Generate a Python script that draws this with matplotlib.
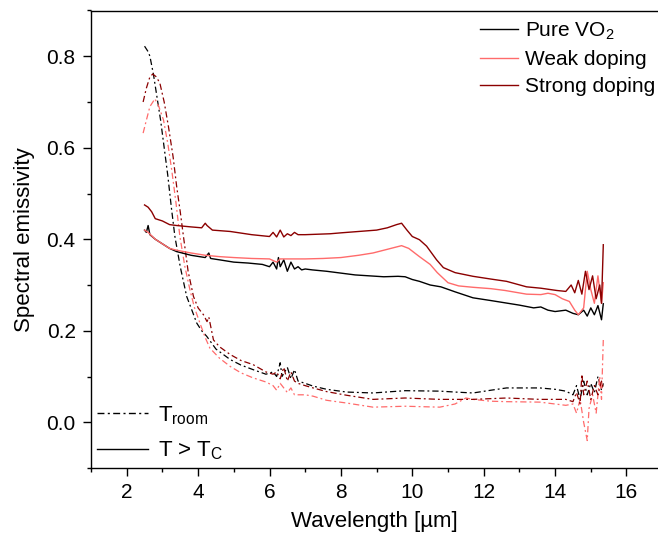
import matplotlib
matplotlib.use("Agg")
import matplotlib.pyplot as plt
from matplotlib.lines import Line2D
from matplotlib.ticker import MultipleLocator

plt.rcParams['font.family'] = ['Liberation Sans', 'DejaVu Sans']
plt.rcParams['mathtext.fontset'] = 'custom'
plt.rcParams['mathtext.rm'] = 'Liberation Sans'

# colours for the three samples
c_pure = 'black'
c_weak = '#FF6B6B'
c_strong = '#8B0000'

# ---- T > Tc (solid lines) ----
wl_pure_hot = [2.5, 2.55, 2.6, 2.65, 2.8, 3.0, 3.2, 3.4, 3.8, 4.2, 4.3, 4.35, 4.6, 5.0, 5.4, 5.8,
               6.0, 6.1, 6.2, 6.25, 6.3, 6.4, 6.5, 6.6, 6.7, 6.8, 6.9, 7.0, 7.2, 7.6, 8.0, 8.4,
               8.8, 9.2, 9.6, 9.8, 10.0, 10.2, 10.5, 10.8, 11.2, 11.7, 12.2, 12.6, 13.0, 13.4,
               13.6, 13.8, 14.0, 14.3, 14.5, 14.65, 14.8, 14.9, 15.0, 15.1, 15.2, 15.3, 15.35]
em_pure_hot = [0.42, 0.415, 0.43, 0.41, 0.40, 0.39, 0.38, 0.373, 0.365, 0.36, 0.37, 0.358, 0.355,
               0.35, 0.348, 0.345, 0.34, 0.35, 0.335, 0.36, 0.34, 0.355, 0.33, 0.35, 0.335, 0.34,
               0.333, 0.335, 0.333, 0.33, 0.326, 0.322, 0.32, 0.318, 0.319, 0.318, 0.312, 0.308,
               0.30, 0.296, 0.285, 0.272, 0.266, 0.261, 0.256, 0.25, 0.252, 0.245, 0.242, 0.245,
               0.238, 0.235, 0.245, 0.232, 0.25, 0.235, 0.255, 0.224, 0.259]

wl_weak_hot = [2.5, 2.6, 2.8, 3.0, 3.2, 3.4, 3.8, 4.2, 4.6, 5.0, 5.5, 6.0, 6.2, 6.3, 6.5, 7.0,
               7.5, 8.0, 8.5, 8.9, 9.3, 9.7, 9.9, 10.2, 10.5, 10.7, 11.0, 11.3, 11.7, 12.2, 12.6,
               13.2, 13.6, 13.8, 14.0, 14.2, 14.4, 14.55, 14.65, 14.8, 14.9, 15.0, 15.1, 15.2,
               15.3, 15.35]
em_weak_hot = [0.42, 0.415, 0.40, 0.39, 0.38, 0.376, 0.37, 0.365, 0.362, 0.36, 0.358, 0.357,
               0.35, 0.357, 0.357, 0.357, 0.358, 0.36, 0.365, 0.37, 0.378, 0.386, 0.38, 0.362,
               0.345, 0.327, 0.305, 0.298, 0.295, 0.292, 0.288, 0.28, 0.279, 0.282, 0.279, 0.27,
               0.264, 0.245, 0.235, 0.25, 0.33, 0.29, 0.26, 0.32, 0.26, 0.305]

wl_strong_hot = [2.5, 2.6, 2.7, 2.8, 3.0, 3.2, 3.4, 3.8, 4.1, 4.2, 4.25, 4.4, 4.9, 5.5, 6.0, 6.1,
                 6.2, 6.3, 6.4, 6.5, 6.6, 6.7, 6.8, 7.0, 7.7, 8.0, 8.5, 9.0, 9.3, 9.56, 9.7, 9.85,
                 10.0, 10.2, 10.4, 10.68, 10.87, 11.2, 11.7, 12.2, 12.64, 13.2, 13.6, 14.05, 14.3,
                 14.45, 14.55, 14.65, 14.75, 14.85, 14.95, 15.05, 15.15, 15.25, 15.3, 15.35]
em_strong_hot = [0.475, 0.47, 0.46, 0.445, 0.44, 0.432, 0.43, 0.427, 0.425, 0.435, 0.43, 0.42,
                 0.417, 0.41, 0.406, 0.415, 0.405, 0.42, 0.405, 0.412, 0.408, 0.415, 0.41, 0.41,
                 0.412, 0.414, 0.417, 0.42, 0.425, 0.432, 0.435, 0.42, 0.406, 0.399, 0.385, 0.355,
                 0.338, 0.327, 0.319, 0.313, 0.308, 0.296, 0.293, 0.288, 0.286, 0.3, 0.283, 0.31,
                 0.28, 0.33, 0.29, 0.32, 0.27, 0.30, 0.26, 0.388]

# ---- T room (dash-dot lines) ----
wl_pure_room = [2.5, 2.6, 2.65, 2.75, 2.85, 2.95, 3.05, 3.15, 3.25, 3.35, 3.5, 3.68, 3.85, 3.96,
                4.1, 4.24, 4.5, 4.9, 5.2, 5.54, 5.9, 6.1, 6.2, 6.3, 6.35, 6.5, 6.6, 6.7, 6.8, 7.0,
                7.22, 7.6, 8.16, 8.9, 9.8, 10.77, 11.2, 11.7, 12.2, 12.64, 13.57, 14.0, 14.3, 14.5,
                14.6, 14.7, 14.8, 14.9, 15.0, 15.1, 15.2, 15.3, 15.35]
em_pure_room = [0.822, 0.81, 0.80, 0.76, 0.71, 0.66, 0.60, 0.54, 0.47, 0.406, 0.34, 0.275, 0.24,
                0.217, 0.20, 0.188, 0.16, 0.137, 0.125, 0.115, 0.105, 0.11, 0.10, 0.13, 0.10,
                0.12, 0.095, 0.115, 0.09, 0.085, 0.079, 0.072, 0.066, 0.064, 0.069, 0.068, 0.066,
                0.064, 0.07, 0.075, 0.075, 0.072, 0.068, 0.06, 0.08, 0.05, 0.09, 0.06, 0.085,
                0.065, 0.1, 0.07, 0.085]

wl_weak_room = [2.46, 2.55, 2.65, 2.79, 2.9, 3.03, 3.15, 3.26, 3.38, 3.49, 3.63, 3.77, 3.9, 4.05,
                4.2, 4.33, 4.6, 4.9, 5.2, 5.54, 5.9, 6.1, 6.2, 6.3, 6.5, 6.6, 6.7, 7.0, 7.22, 7.6,
                8.16, 8.9, 9.8, 10.77, 11.2, 11.5, 11.7, 12.2, 12.64, 13.57, 14.3, 14.5, 14.6, 14.7,
                14.8, 14.9, 14.95, 15.05, 15.15, 15.25, 15.3, 15.35]
em_weak_room = [0.632, 0.66, 0.69, 0.707, 0.69, 0.661, 0.61, 0.552, 0.48, 0.406, 0.34, 0.29, 0.25,
                0.217, 0.185, 0.162, 0.14, 0.122, 0.108, 0.097, 0.088, 0.08, 0.07, 0.085, 0.065,
                0.075, 0.06, 0.06, 0.057, 0.048, 0.042, 0.033, 0.035, 0.033, 0.04, 0.053, 0.05,
                0.046, 0.045, 0.044, 0.037, 0.04, 0.02, 0.05, 0.0, -0.04, 0.03, 0.06, 0.02, 0.10,
                0.05, 0.18]

wl_strong_room = [2.46, 2.55, 2.65, 2.73, 2.83, 2.93, 3.05, 3.17, 3.3, 3.4, 3.5, 3.59, 3.72, 3.87,
                  4.0, 4.15, 4.25, 4.3, 4.43, 4.6, 4.9, 5.2, 5.54, 5.9, 6.1, 6.2, 6.3, 6.4, 6.5,
                  6.6, 6.7, 6.8, 7.0, 7.22, 7.6, 8.16, 8.9, 9.8, 10.77, 11.7, 12.64, 13.57, 14.3,
                  14.5, 14.6, 14.7, 14.75, 14.8, 14.9, 15.0, 15.1, 15.2, 15.3, 15.35]
em_strong_room = [0.70, 0.73, 0.755, 0.761, 0.755, 0.741, 0.70, 0.646, 0.58, 0.515, 0.46, 0.406,
                  0.33, 0.275, 0.25, 0.235, 0.22, 0.23, 0.18, 0.165, 0.148, 0.135, 0.126, 0.11,
                  0.105, 0.11, 0.095, 0.12, 0.09, 0.11, 0.09, 0.085, 0.08, 0.075, 0.067, 0.059,
                  0.05, 0.053, 0.05, 0.05, 0.053, 0.05, 0.05, 0.045, 0.065, 0.04, 0.105, 0.06,
                  0.09, 0.05, 0.08, 0.06, 0.09, 0.075]

sample_labels = ['Pure VO$_2$', 'Weak doping', 'Strong doping']
temp_labels = ['T$_{\\mathrm{room}}$', 'T > T$_\\mathrm{C}$']

fig = plt.figure(figsize=(6.58, 5.4), dpi=100)
ax = fig.add_axes([91 / 658, 1 - 468 / 540, 567 / 658, 457.5 / 540])

dd = (5, 2.4, 1.5, 2.4)
ax.plot(wl_pure_room, em_pure_room, color=c_pure, lw=0.9, dashes=dd)
ax.plot(wl_weak_room, em_weak_room, color=c_weak, lw=0.9, dashes=dd)
ax.plot(wl_strong_room, em_strong_room, color=c_strong, lw=0.9, dashes=dd)

ax.plot(wl_pure_hot, em_pure_hot, color=c_pure, lw=1.0)
ax.plot(wl_weak_hot, em_weak_hot, color=c_weak, lw=1.0)
ax.plot(wl_strong_hot, em_strong_hot, color=c_strong, lw=1.0)

ax.set_xlim(1, 1 + 567 / 35.7)
ax.set_ylim(-0.1, 0.9)
ax.xaxis.set_major_locator(MultipleLocator(2))
ax.xaxis.set_minor_locator(MultipleLocator(1))
ax.yaxis.set_major_locator(MultipleLocator(0.2))
ax.yaxis.set_minor_locator(MultipleLocator(0.1))
ax.tick_params(which='major', direction='out', length=6, width=1, labelsize=15, pad=5)
ax.tick_params(which='minor', direction='out', length=3, width=1)
ax.spines['right'].set_visible(False)
for s in ['left', 'bottom', 'top']:
    ax.spines[s].set_linewidth(1)

ax.set_xlabel('Wavelength [µm]', fontsize=16, labelpad=6)
ax.set_ylabel('Spectral emissivity', fontsize=16, labelpad=8)

h1 = [Line2D([], [], color=c, lw=1) for c in [c_pure, c_weak, c_strong]]
leg1 = ax.legend(h1, sample_labels, loc='upper right', frameon=False, fontsize=15,
                 handlelength=1.8, handletextpad=0.35, labelspacing=0.4,
                 bbox_to_anchor=(1.003, 0.988), borderaxespad=0.0, borderpad=0.2)
ax.add_artist(leg1)

h2 = [Line2D([], [], color='black', lw=1, dashes=dd), Line2D([], [], color='black', lw=1)]
ax.legend(h2, temp_labels, loc='lower left', frameon=False, fontsize=16,
          handlelength=2.3, handletextpad=0.45, labelspacing=0.6,
          bbox_to_anchor=(0.0, 0.0), borderaxespad=0.0, borderpad=0.25)

fig.savefig('out.png', dpi=100)
